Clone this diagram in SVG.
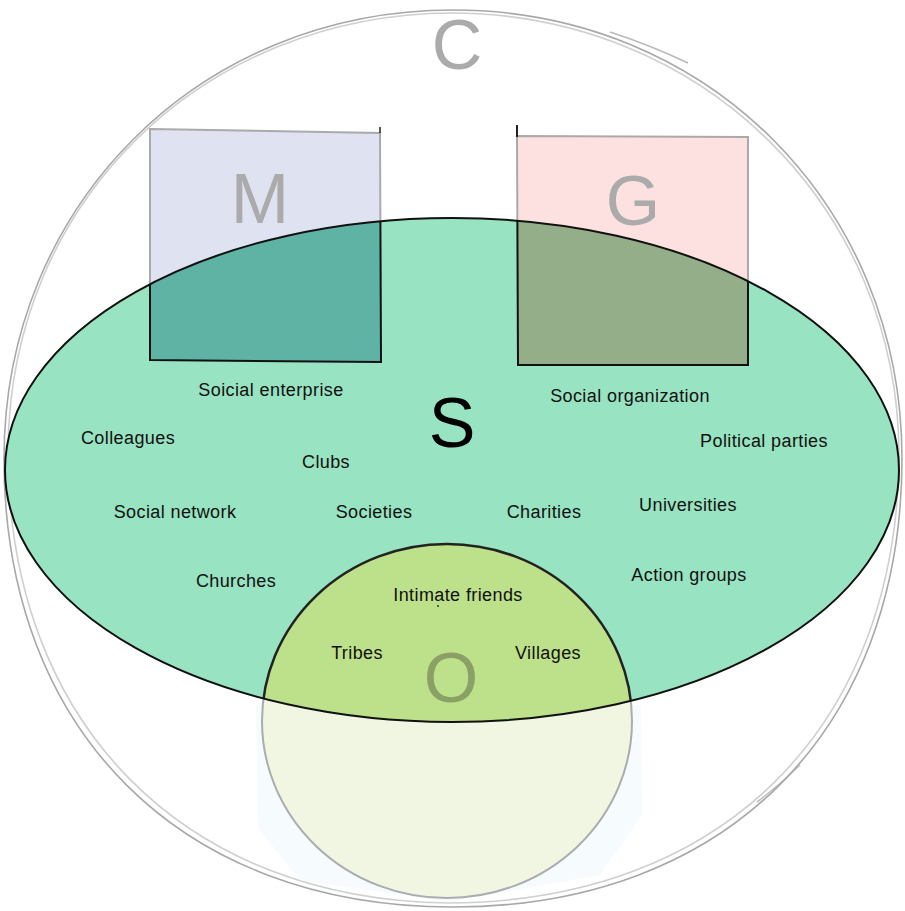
<svg xmlns="http://www.w3.org/2000/svg" width="905" height="911" viewBox="0 0 905 911">
<style>
.lbl{font-family:"Liberation Sans",Arial,sans-serif;font-size:18px;fill:#111;text-anchor:middle;letter-spacing:0.4px}
.big{font-family:"Liberation Sans",Arial,sans-serif;font-size:70px;text-anchor:middle}
.grey{fill:#ababab}
.sk{fill:none;stroke:#a8a8a8;stroke-width:1.6}
</style>
<defs>
<clipPath id="ellClip"><ellipse cx="452" cy="470" rx="447" ry="252"/></clipPath>
</defs>
<rect width="905" height="911" fill="#ffffff"/>
<g id="C">
<path class="sk" d="M902,458.5 C902,205.1 706.7,10 453,10 C199.3,10 4,205.1 4,458.5 C4,730.7 180.5,907 453,907 C725.5,907 902,730.7 902,458.5 Z"/>
<path class="sk" stroke-opacity="0.55" d="M899,456 C899,208 704,14 452,13 C204,14 9,200 8,452 C8,726 186,900 448,903 C722,902 897,728 899,456 Z"/>
<path class="sk" d="M610,32 Q650,45 688,63" stroke-opacity="0.8"/>
<path class="sk" d="M800,765 Q780,785 757,802" stroke-opacity="0.7"/>
<text class="big grey" x="457" y="69">C</text>
</g>
<g id="O-back">
<polygon points="256,705 641,705 642,815 600,875 450,902 300,880 258,828" fill="#f6fbfe"/>
<ellipse cx="447" cy="721" rx="185" ry="177" fill="#f1f6e3" stroke="#a9adad" stroke-width="2"/>
</g>
<g id="M">
<polygon points="150,129 380,133 381,362 150,360" fill="#dfe2f0" stroke="#aaaaaa" stroke-width="2"/>
<line x1="380" y1="127" x2="380" y2="133" stroke="#222" stroke-width="1.5"/>
<text class="big grey" x="260" y="223">M</text>
</g>
<g id="G">
<polygon points="517,136 748,137 748,365 518,365" fill="#fde0e0" stroke="#aaaaaa" stroke-width="2"/>
<line x1="517" y1="125" x2="517" y2="137" stroke="#222" stroke-width="2"/>
<text class="big grey" x="633" y="225">G</text>
</g>
<g id="S">
<ellipse cx="452" cy="470" rx="447" ry="252" fill="#98e3c1"/>
<g clip-path="url(#ellClip)">
<polygon points="150,129 380,133 381,362 150,360" fill="#5fb3a5" stroke="#111" stroke-width="2"/>
<polygon points="517,136 748,137 748,365 518,365" fill="#93ae88" stroke="#111" stroke-width="2"/>
<ellipse cx="447" cy="721" rx="185" ry="177" fill="#bde08a" stroke="#222" stroke-width="2.5"/>
</g>
<ellipse cx="452" cy="470" rx="447" ry="252" fill="none" stroke="#111" stroke-width="2"/>
<text class="big" x="452" y="447" fill="#000">S</text>
</g>
<g id="O">
<text class="big" x="451" y="702" fill="#8aa065" font-size="68">O</text>
<circle cx="438" cy="606" r="1" fill="#333"/>
</g>
<g id="connectors"/>
<g id="labels">
<text class="lbl" x="271" y="396">Soicial enterprise</text>
<text class="lbl" x="630" y="402">Social organization</text>
<text class="lbl" x="128" y="444">Colleagues</text>
<text class="lbl" x="764" y="447">Political parties</text>
<text class="lbl" x="326" y="468">Clubs</text>
<text class="lbl" x="175" y="518">Social network</text>
<text class="lbl" x="374" y="518">Societies</text>
<text class="lbl" x="544" y="518">Charities</text>
<text class="lbl" x="688" y="511">Universities</text>
<text class="lbl" x="236" y="587">Churches</text>
<text class="lbl" x="689" y="581">Action groups</text>
<text class="lbl" x="458" y="601">Intimate friends</text>
<text class="lbl" x="357" y="659">Tribes</text>
<text class="lbl" x="548" y="659">Villages</text>
</g>
</svg>
